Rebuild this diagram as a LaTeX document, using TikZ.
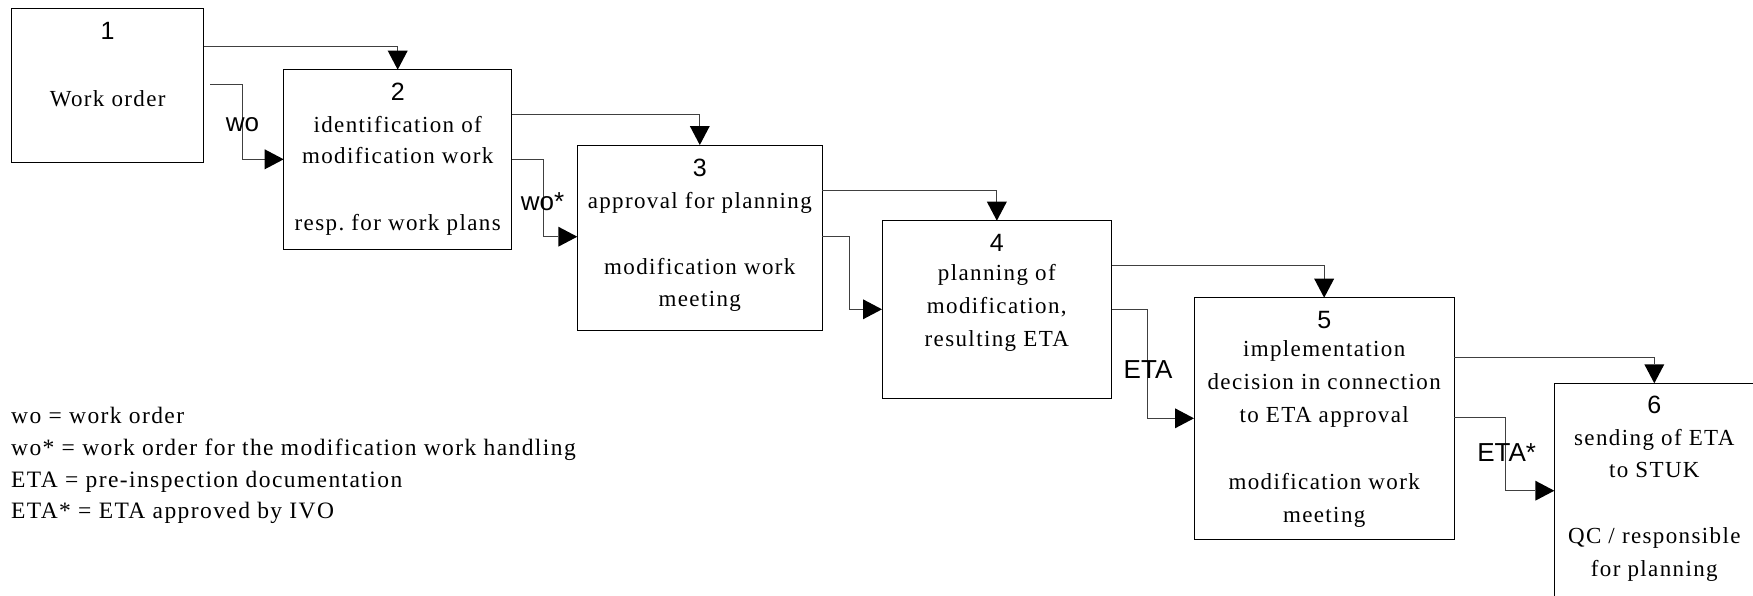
\documentclass[tikz,border=0pt]{standalone}
\usepackage{fontspec}
\setmainfont[LetterSpace=6]{Liberation Serif}
\newfontfamily\arialf{Liberation Sans}
\usetikzlibrary{arrows.meta}
\frenchspacing
\tikzset{
  box/.style={draw=black, line width=1pt, inner sep=0pt, outer sep=0pt, anchor=north west},
  conn/.style={draw=black!75, line width=1pt, -{Triangle[length=19pt,width=20pt,line width=0pt,fill=black]}},
  txt/.style={inner sep=0pt, anchor=base, font=\fontsize{23}{28}\selectfont},
  num/.style={inner sep=0pt, anchor=base, font=\arialf\fontsize{25}{30}\selectfont},
  lab/.style={inner sep=0pt, anchor=base, font=\arialf\fontsize{26}{31}\selectfont},
  leg/.style={inner sep=0pt, anchor=base west, font=\fontsize{23.5}{28}\selectfont},
}
\begin{document}
\begin{tikzpicture}[x=1pt,y=-1pt]
\useasboundingbox (0,0) rectangle (1753,595);
% boxes
\node[box, minimum width=192pt, minimum height=154.3pt] (b1) at (11.7,8) {};
\node[box, minimum width=228pt, minimum height=179.6pt] (b2) at (283.7,69.7) {};
\node[box, minimum width=245pt, minimum height=185pt] (b3) at (577.3,145) {};
\node[box, minimum width=229.7pt, minimum height=177.6pt] (b4) at (882,220.7) {};
\node[box, minimum width=260.3pt, minimum height=241.6pt] (b5) at (1194,297.7) {};
\node[box, minimum width=200pt, minimum height=240pt] (b6) at (1554.3,383.3) {};
% box texts
\node[num] (n1) at (107.7,39.3) {1};
\node[txt] (t1a) at (107.7,106) {Work order};
\node[num] (n2) at (397.7,100) {2};
\node[txt] (t2a) at (397.7,132.7) {identification of};
\node[txt] (t2b) at (397.7,163.5) {modification work};
\node[txt] (t2c) at (397.7,230.7) {resp. for work plans};
\node[num] (n3) at (699.8,176) {3};
\node[txt] (t3a) at (699.8,208.3) {approval for planning};
\node[txt] (t3b) at (699.8,274.3) {modification work};
\node[txt] (t3c) at (699.8,306.7) {meeting};
\node[num] (n4) at (996.8,251) {4};
\node[txt] (t4a) at (996.8,280.5) {planning of};
\node[txt] (t4b) at (996.8,313.3) {modification,};
\node[txt] (t4c) at (996.8,346) {resulting ETA};
\node[num] (n5) at (1324.2,328.3) {5};
\node[txt] (t5a) at (1324.2,356.7) {implementation};
\node[txt] (t5b) at (1324.2,389.3) {decision in connection};
\node[txt] (t5c) at (1324.2,422.7) {to ETA approval};
\node[txt] (t5d) at (1324.2,489.3) {modification work};
\node[txt] (t5e) at (1324.2,522.7) {meeting};
\node[num] (n6) at (1654.3,413.3) {6};
\node[txt] (t6a) at (1654.3,445) {sending of ETA};
\node[txt] (t6b) at (1654.3,477.7) {to STUK};
\node[txt] (t6c) at (1654.3,543.3) {QC / responsible};
\node[txt] (t6d) at (1654.3,576.7) {for planning};
% upper connectors
\draw[conn] (b1.east |- 0,46.3) -| (b2.north);
\draw[conn] (b2.east |- 0,114) -| (b3.north);
\draw[conn] (b3.east |- 0,190) -| (b4.north);
\draw[conn] (b4.east |- 0,265) -| (b5.north);
\draw[conn] (b5.east |- 0,357.7) -| (b6.north);
% lower connectors
\coordinate (w1s) at (210,84.7);
\draw[conn] (w1s) -- (242.3,84.7) |- (b2.west |- 0,159.3);
\draw[conn] (b2.east |- 0,159.3) -- (543.3,159.3) |- (b3.west |- 0,236.7);
\draw[conn] (b3.east |- 0,236.7) -- (849,236.7) |- (b4.west |- 0,309.3);
\draw[conn] (b4.east |- 0,309.3) -- (1147.7,309.3) |- (b5.west |- 0,418.3);
\draw[conn] (b5.east |- 0,417.7) -- (1505,417.7) |- (b6.west |- 0,490.7);
% connector labels
\node[lab] (l1) at (242.5,131.7) {wo};
\node[lab] (l2) at (542.5,210) {wo*};
\node[lab] (l3) at (1148,378.3) {ETA};
\node[lab] (l4) at (1506.7,461.7) {ETA*};
% legend
\node[leg] (g1) at (11,423.3) {wo = work order};
\node[leg] (g2) at (11,455) {wo* = work order for the modification work handling};
\node[leg] (g3) at (11,487.3) {ETA = pre-inspection documentation};
\node[leg] (g4) at (11,518.7) {ETA* = ETA approved by IVO};
\end{tikzpicture}
\end{document}
